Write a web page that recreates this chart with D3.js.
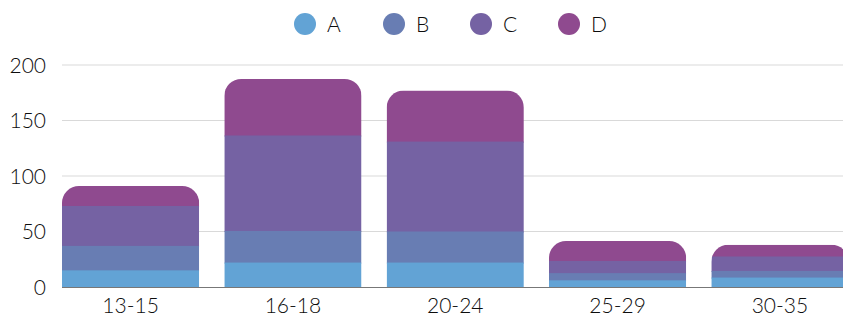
<!DOCTYPE html>
<html>
<head>
<meta charset="utf-8">
<script src="https://cdn.jsdelivr.net/npm/d3@7"></script>
<style>
  body { margin: 0; background: #fff; }
  svg { display: block; font-family: Lato, "Open Sans", sans-serif; }
</style>
</head>
<body>
<div id="chart"></div>
<script>
// data
const groups = ["13-15", "16-18", "20-24", "25-29", "30-35"];
const series = ["A", "B", "C", "D"];
const valuesA = [15, 22, 22, 6, 8.5];
const valuesB = [22, 28.5, 28, 6.5, 6];
const valuesC = [36, 86, 81, 11, 13];
const valuesD = [18, 51, 46, 18, 10.5];
const yTicks = [0, 50, 100, 150, 200];
const colors = ["#62a3d5", "#687db3", "#7562a3", "#8f4a8f"];

const width = 843, height = 318;
const margin = { top: 65, right: 0, bottom: 31, left: 62 };

const rows = groups.map((g, i) => ({
  group: g, A: valuesA[i], B: valuesB[i], C: valuesC[i], D: valuesD[i]
}));
const stacked = d3.stack().keys(series)(rows);

const svg = d3.select("#chart").append("svg")
  .attr("width", width)
  .attr("height", height);

// scales
const x = d3.scaleBand()
  .domain(groups)
  .range([margin.left, margin.left + 5 * 162.3 - 25])
  .paddingInner(0.155)
  .paddingOuter(0);

const y = d3.scaleLinear()
  .domain([0, 200])
  .range([height - margin.bottom, margin.top]);

// gridlines
svg.append("g")
  .selectAll("line")
  .data(yTicks.filter(d => d > 0))
  .join("line")
  .attr("x1", margin.left)
  .attr("x2", width)
  .attr("y1", d => y(d))
  .attr("y2", d => y(d))
  .attr("stroke", "#d9d9d9")
  .attr("stroke-width", 1);

// y labels
svg.append("g")
  .selectAll("text")
  .data(yTicks)
  .join("text")
  .attr("x", 46)
  .attr("y", d => y(d))
  .attr("dy", "0.36em")
  .attr("text-anchor", "end")
  .attr("fill", "#0d0d0d")
  .style("font-size", "21px")
  .style("font-weight", 300)
  .text(d => d);

// clip each bar with rounded top corners
const r = 17;
const defs = svg.append("defs");
groups.forEach((g, i) => {
  const x0 = x(g), x1 = x(g) + x.bandwidth();
  const top = y(stacked[stacked.length - 1][i][1]);
  const bottom = y(0);
  const p = d3.path();
  p.moveTo(x0, bottom);
  p.lineTo(x0, top + r);
  p.arcTo(x0, top, x0 + r, top, r);
  p.lineTo(x1 - r, top);
  p.arcTo(x1, top, x1, top + r, r);
  p.lineTo(x1, bottom);
  p.closePath();
  defs.append("clipPath").attr("id", "clip" + i)
    .append("path").attr("d", p.toString());
});

// bars (each segment runs 1px under the one above so no seams show)
const bars = svg.append("g");
groups.forEach((g, i) => {
  const bar = bars.append("g").attr("clip-path", `url(#clip${i})`);
  stacked.slice().reverse().forEach(s => {
    const k = series.indexOf(s.key);
    bar.append("rect")
      .attr("x", x(g))
      .attr("width", x.bandwidth())
      .attr("y", y(s[i][1]))
      .attr("height", y(s[i][0]) - y(s[i][1]) + (k > 0 ? 1 : 0))
      .attr("fill", colors[k]);
  });
});

// x axis
const xAxis = svg.append("g")
  .attr("transform", `translate(0,${y(0)})`)
  .call(d3.axisBottom(x).tickSize(0).tickPadding(11));
xAxis.select(".domain")
  .attr("d", `M${margin.left},0.5H${width}`)
  .attr("stroke", "#777");
xAxis.selectAll("text")
  .attr("fill", "#0d0d0d")
  .style("font-size", "21px")
  .style("font-weight", 300)
  .style("font-family", "Lato, 'Open Sans', sans-serif");

// legend
const legendX = [305, 394, 481, 569];
const legend = svg.append("g")
  .selectAll("g")
  .data(series)
  .join("g")
  .attr("transform", (d, i) => `translate(${legendX[i]},24)`);
legend.append("circle")
  .attr("r", 11)
  .attr("fill", (d, i) => colors[i]);
legend.append("text")
  .attr("x", 22)
  .attr("dy", "0.36em")
  .attr("fill", "#0d0d0d")
  .style("font-size", "21px")
  .style("font-weight", 300)
  .text(d => d);
</script>
</body>
</html>
